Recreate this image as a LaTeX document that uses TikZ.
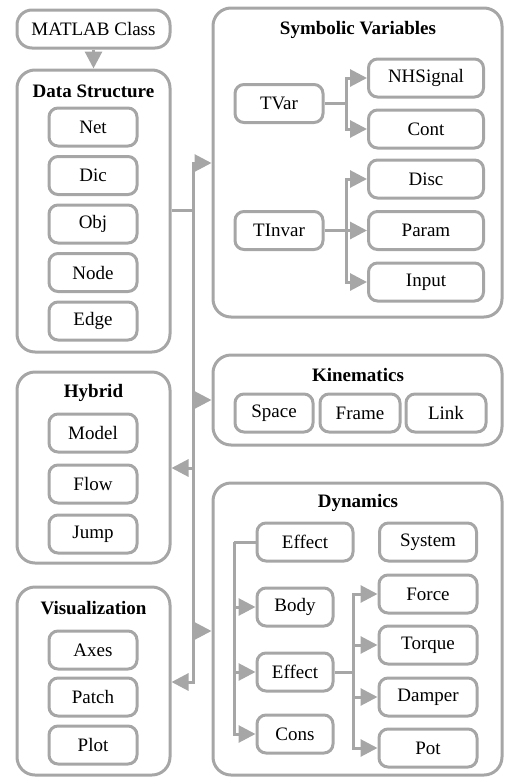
\documentclass[tikz,border=0pt]{standalone}
\usepackage{fontspec}
\setmainfont{LiberationSerif}[Extension=.ttf, UprightFont=*-Regular, BoldFont=*-Bold]
\usetikzlibrary{arrows.meta}
\definecolor{lineg}{RGB}{166,166,166}
\begin{document}
\begin{tikzpicture}[x=1pt,y=-1pt,
  font=\rmfamily\fontsize{19}{22}\selectfont,
  outer/.style={draw=lineg, line width=3pt, rounded corners=18pt, inner sep=0pt},
  inbox/.style={draw=lineg, line width=3pt, rounded corners=9pt, minimum height=38pt, inner sep=0pt},
  ttl/.style={font=\rmfamily\fontsize{19}{22}\selectfont\bfseries, inner sep=0pt},
  conn/.style={draw=lineg, line width=3pt},
  arr/.style={conn, -{Triangle[length=17pt,width=17pt]}},
  arrb/.style={conn, {Triangle[length=17pt,width=17pt]}-{Triangle[length=17pt,width=17pt]}}]
\useasboundingbox (0,0) rectangle (504,777);

% MATLAB class
\node[outer, rounded corners=15pt, minimum width=153pt, minimum height=38pt] (mat) at (93.5,29) {MATLAB Class};

% Data Structure
\node[outer, minimum width=153pt, minimum height=282pt] (ds) at (93.5,211) {};
\node[ttl] (dst) at (93.5,91) {Data Structure};
\node[inbox, minimum width=88pt] (net) at (93,127) {Net};
\node[inbox, minimum width=88pt] (dic) at (93,175.5) {Dic};
\node[inbox, minimum width=88pt] (obj) at (93,224) {Obj};
\node[inbox, minimum width=88pt] (nod) at (93,272.5) {Node};
\node[inbox, minimum width=88pt] (edg) at (93,321) {Edge};

% Hybrid
\node[outer, minimum width=153pt, minimum height=191pt] (hyb) at (93.5,467.5) {};
\node[ttl] (hybt) at (93.5,393) {Hybrid};
\node[inbox, minimum width=88pt] (mod) at (93,433) {Model};
\node[inbox, minimum width=88pt] (flo) at (93,484) {Flow};
\node[inbox, minimum width=88pt] (jmp) at (93,534) {Jump};

% Visualization
\node[outer, minimum width=153pt, minimum height=188pt] (vis) at (93.5,681) {};
\node[ttl] (vist) at (93.5,608) {Visualization};
\node[inbox, minimum width=88pt] (axe) at (93,650) {Axes};
\node[inbox, minimum width=88pt] (pat) at (93,697) {Patch};
\node[inbox, minimum width=88pt] (plt) at (93,745) {Plot};

% Symbolic Variables
\node[outer, minimum width=289pt, minimum height=309pt] (sv) at (357.5,162.5) {};
\node[ttl] (svt) at (358,30) {Symbolic Variables};
\node[inbox, minimum width=88pt] (tvar) at (279,103.5) {TVar};
\node[inbox, minimum width=88pt] (tinv) at (279,230.5) {TInvar};
\node[inbox, minimum width=115pt] (nhs) at (426,78) {NHSignal};
\node[inbox, minimum width=115pt] (cnt) at (426,129) {Cont};
\node[inbox, minimum width=115pt] (dsc) at (426,179) {Disc};
\node[inbox, minimum width=115pt] (prm) at (426,230.5) {Param};
\node[inbox, minimum width=115pt] (inp) at (426,282) {Input};
\coordinate (b1) at (346,103.5);
\coordinate (b2) at (346,230.5);
\draw[conn] (tvar.east) -- (b1);
\draw[arr] (b1) |- (nhs.west);
\draw[arr] (b1) |- (cnt.west);
\draw[arr] (tinv.east) -- (prm.west);
\draw[arr] (b2) |- (dsc.west);
\draw[arr] (b2) |- (inp.west);

% Kinematics
\node[outer, minimum width=289pt, minimum height=90pt] (kin) at (357.5,400) {};
\node[ttl] (kint) at (358,375) {Kinematics};
\node[inbox, minimum width=78pt] (spc) at (274,413) {Space};
\node[inbox, minimum width=80pt] (frm) at (360,413) {Frame};
\node[inbox, minimum width=80pt] (lnk) at (446,413) {Link};

% Dynamics
\node[outer, minimum width=289pt, minimum height=292pt] (dyn) at (357.5,629) {};
\node[ttl] (dynt) at (358,503) {Dynamics};
\node[inbox, minimum width=96pt] (ef1) at (305,542) {Effect};
\node[inbox, minimum width=97pt] (sys) at (428,542) {System};
\node[inbox, minimum width=76pt] (bod) at (295,607) {Body};
\node[inbox, minimum width=76pt] (ef2) at (295,672) {Effect};
\node[inbox, minimum width=76pt] (con) at (295,734) {Cons};
\node[inbox, minimum width=98pt] (frc) at (428,594) {Force};
\node[inbox, minimum width=98pt] (trq) at (428,645) {Torque};
\node[inbox, minimum width=98pt] (dmp) at (428,697) {Damper};
\node[inbox, minimum width=98pt] (pot) at (428,748) {Pot};
\coordinate (lb) at (234,542);
\coordinate (rb) at (353,672);
\draw[conn] (ef1.west) -- (lb);
\draw[arr] (lb) |- (bod.west);
\draw[arr] (lb) |- (ef2.west);
\draw[arr] (lb) |- (con.west);
\draw[conn] (ef2.east) -- (rb);
\draw[arr] (rb) |- (frc.west);
\draw[arr] (rb) |- (trq.west);
\draw[arr] (rb) |- (dmp.west);
\draw[arr] (rb) |- (pot.west);

% Trunk
\coordinate (ttop) at (193,163);
\coordinate (tds) at (193,210);
\coordinate (tkin) at (193,400);
\coordinate (thyb) at (193,468);
\coordinate (tdyn) at (193,631);
\coordinate (tbot) at (193,682);
\draw[arr] (mat.south) -- (ds.north);
\draw[arrb] (sv.west |- ttop) -- (ttop) -- (tbot) -- (vis.east |- tbot);
\draw[conn] (ds.east |- tds) -- (tds);
\draw[arr] (tkin) -- (kin.west |- tkin);
\draw[arr] (thyb) -- (hyb.east |- thyb);
\draw[arr] (tdyn) -- (dyn.west |- tdyn);
\end{tikzpicture}
\end{document}
